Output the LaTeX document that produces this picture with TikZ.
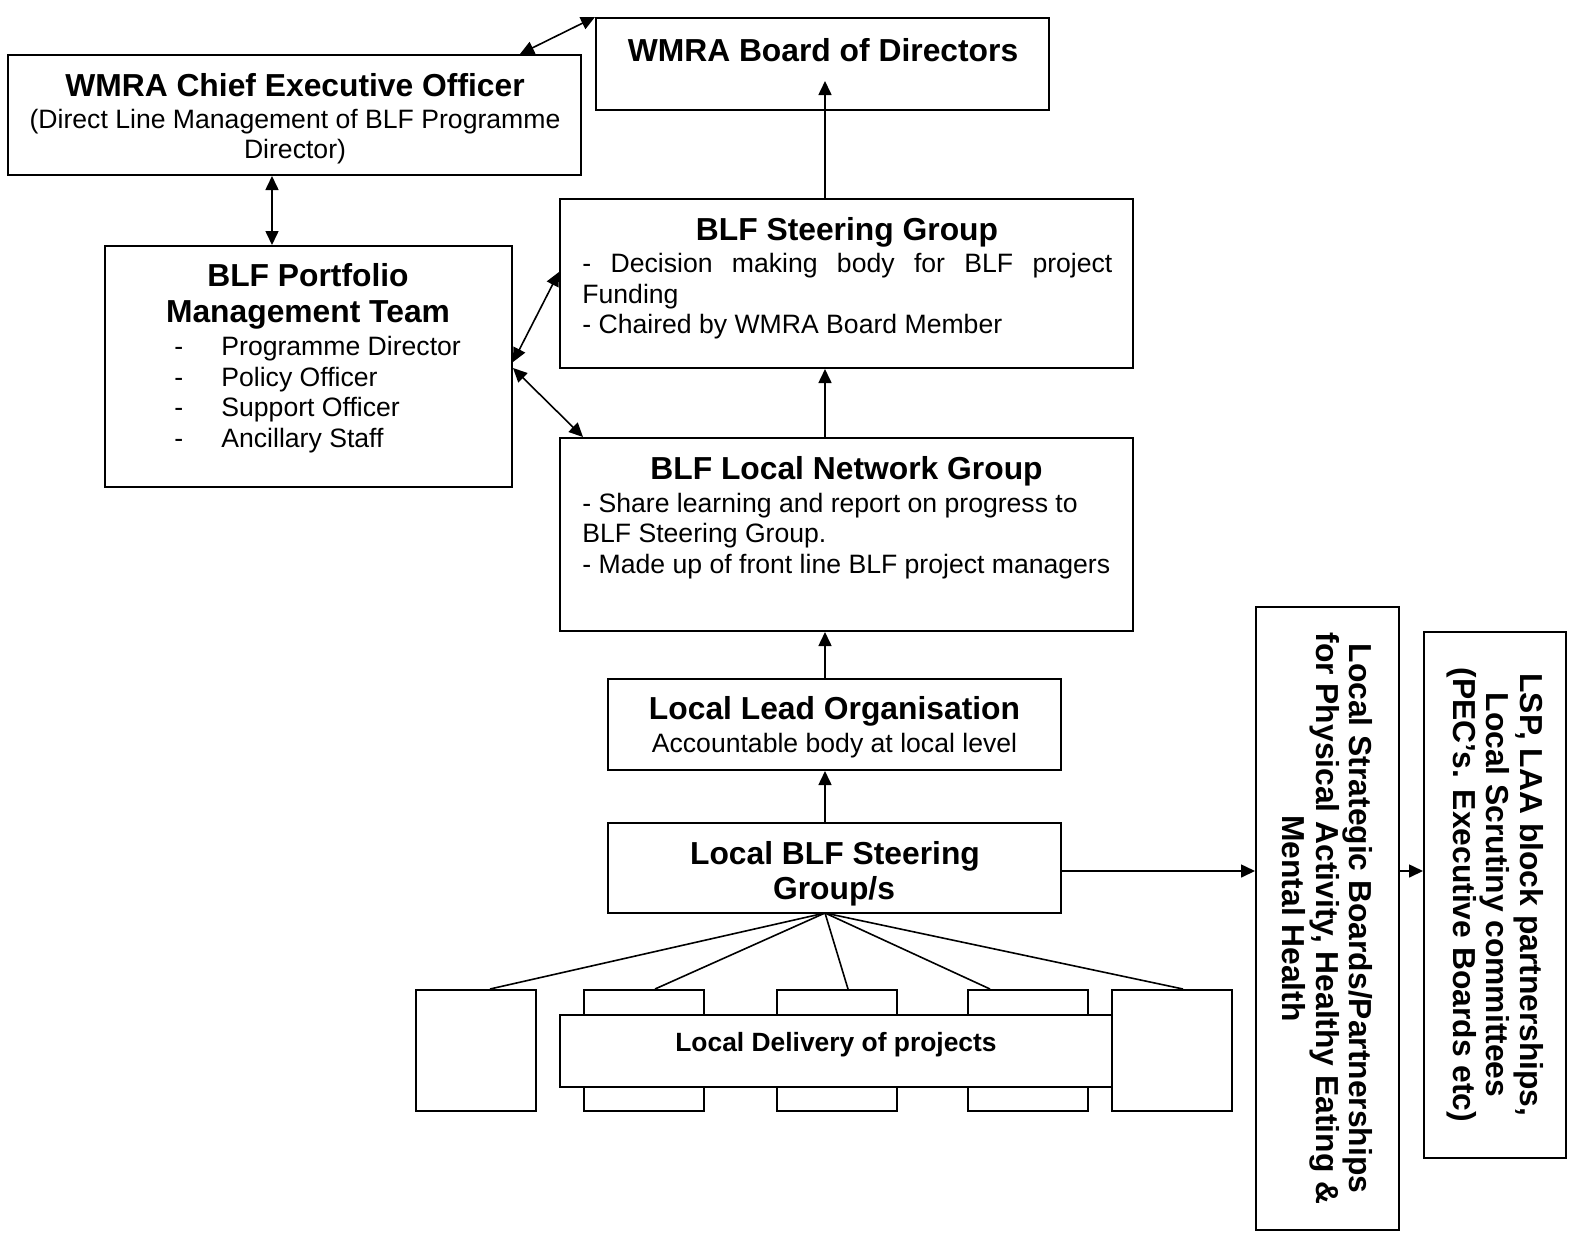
\documentclass[tikz,border=0pt]{standalone}
\usepackage{fontspec}
\setmainfont{Liberation Sans}
\usetikzlibrary{arrows.meta}

\tikzset{
  box/.style={draw, line width=1pt, fill=white, inner sep=0pt},
  head/.style={font=\fontsize{15.9}{18}\selectfont\bfseries, inner sep=0pt},
  body/.style={font=\fontsize{13.3}{15.3}\selectfont, inner sep=0pt},
  link/.style={line width=0.8pt},
}

\begin{document}
\begin{tikzpicture}[x=0.5pt, y=-0.5pt, >={Triangle[length=7pt,width=6.5pt]}]
    \useasboundingbox (0,0) rectangle (1569,1232);

    % the boxes
    \node[box, minimum width=226.5pt, minimum height=46pt]   (board) at (822.5,64) {};
    \node[box, minimum width=286.5pt, minimum height=60pt]   (ceo)   at (294.5,115) {};
    \node[box, minimum width=203.5pt, minimum height=120.5pt] (pmt)  at (308.5,366.5) {};
    \node[box, minimum width=286.5pt, minimum height=84.5pt] (steer) at (846.5,283.5) {};
    \node[box, minimum width=286.5pt, minimum height=96.5pt] (lng)   at (846.5,534.5) {};
    \node[box, minimum width=226.5pt, minimum height=45.5pt] (llo)   at (834.5,724.5) {};
    \node[box, minimum width=226.5pt, minimum height=45pt]   (lsg)   at (834.5,868) {};

    % WMRA Board of Directors
    \node[head, anchor=base] (boardA) at (823,61) {WMRA Board of Directors};

    % WMRA Chief Executive Officer
    \node[head, anchor=base] (ceoA) at (295,96) {WMRA Chief Executive Officer};
    \node[body, anchor=base] (ceoB) at (295,128.5) {(Direct Line Management of BLF Programme};
    \node[body, anchor=base] (ceoC) at (295,158.5) {Director)};

    % BLF Portfolio Management Team
    \node[head, anchor=base] (pmtA) at (308,286) {BLF Portfolio};
    \node[head, anchor=base] (pmtB) at (308,322) {Management Team};
    \foreach \t [count=\i] in {Programme Director, Policy Officer, Support Officer, Ancillary Staff} {
        % dash and item
        \node[body, anchor=base west] (pmtdash\i) at (174,{355.5+30.7*(\i-1)}) {-};
        \node[body, anchor=base west] (pmtitem\i) at (221,{355.5+30.7*(\i-1)}) {\t};
    }

    % BLF Steering Group
    \node[head, anchor=base] (steerA) at (847,240) {BLF Steering Group};
    \node[body, anchor=base west] (steerB) at (582,272.5) {\makebox[265pt][s]{- Decision making body for BLF project}};
    \node[body, anchor=base west] (steerC) at (582,303.5) {Funding};
    \node[body, anchor=base west] (steerD) at (582,333.5) {- Chaired by WMRA Board Member};

    % BLF Local Network Group
    \node[head, anchor=base] (lngA) at (846.5,479) {BLF Local Network Group};
    \node[body, anchor=base west] (lngB) at (582,512.5) {- Share learning and report on progress to};
    \node[body, anchor=base west] (lngC) at (582,542.5) {BLF Steering Group.};
    \node[body, anchor=base west] (lngD) at (582,573.5) {- Made up of front line BLF project managers};

    % Local Lead Organisation
    \node[head, anchor=base] (lloA) at (834.5,719) {Local Lead Organisation};
    \node[body, anchor=base] (lloB) at (834.5,752.5) {Accountable body at local level};

    % Local BLF Steering Group/s
    \node[head, anchor=base] (lsgA) at (835,864) {Local BLF Steering};
    \node[head, anchor=base] (lsgB) at (834,899) {Group/s};

    % local delivery of projects
    \foreach \n/\x in {1/476, 2/644, 3/836.5, 4/1028, 5/1172}
        \node[box, minimum width=60pt, minimum height=60.5pt] (d\n) at (\x,1050.5) {};
    \node[box, minimum width=276pt, minimum height=36pt] (deliv) at (836,1051) {};
    \node[inner sep=0pt, anchor=base, font=\fontsize{13.2}{15}\selectfont\bfseries] (delivA) at (836,1051.5) {Local Delivery of projects};

    % fan from the local steering groups
    \coordinate (apex) at (825,913);
    \draw[link] (apex) -- ([xshift=7pt]d1.north);
    \draw[link] (apex) -- ([xshift=5.5pt]d2.north);
    \draw[link] (apex) -- ([xshift=5.75pt]d3.north);
    \draw[link] (apex) -- ([xshift=-19pt]d4.north);
    \draw[link] (apex) -- ([xshift=5.5pt]d5.north);

    % the two upright boxes
    \node[box, minimum width=71.5pt, minimum height=311.5pt] (lsb) at (1327.5,918.5) {};
    \node[head, rotate=-90, align=center, font=\fontsize{15.9}{16.75}\selectfont\bfseries] (lsbA) at (1327.5,918.5)
        {Local Strategic Boards/Partnerships\\for Physical Activity, Healthy Eating \&\\Mental Health};
    \node[box, minimum width=71pt, minimum height=263pt] (lsp) at (1495,895) {};
    \node[head, rotate=-90, align=center, font=\fontsize{15.9}{16.75}\selectfont\bfseries] (lspA) at (1495,895)
        {LSP, LAA block partnerships,\\Local Scrutiny committees\\(PEC’s. Executive Boards etc)};

    % the connectors
    \coordinate (boardtip) at (825,81);
    \draw[link,<->] (ceo.north -| 520,0) -- (board.north west);
    \draw[link,<->] (ceo.south -| 272,0) -- (pmt.north -| 272,0);
    \draw[link,<->] (pmt.east |- 0,362) -- (steer.west |- 0,272);
    \draw[link,<->] (pmt.east |- 0,368) -- (lng.north -| 583,0);
    \draw[link,->] (steer.north -| boardtip) -- (boardtip);
    \draw[link,->] (lng.north -| apex) -- (steer.south -| apex);
    \draw[link,->] (llo.north -| apex) -- (lng.south -| apex);
    \draw[link,->] (lsg.north -| apex) -- (llo.south -| apex);
    \draw[link,->] (lsg.east |- 0,871) -- (lsb.west |- 0,871);
    \draw[link,->] (lsb.east |- 0,871) -- (lsp.west |- 0,871);
\end{tikzpicture}
\end{document}
